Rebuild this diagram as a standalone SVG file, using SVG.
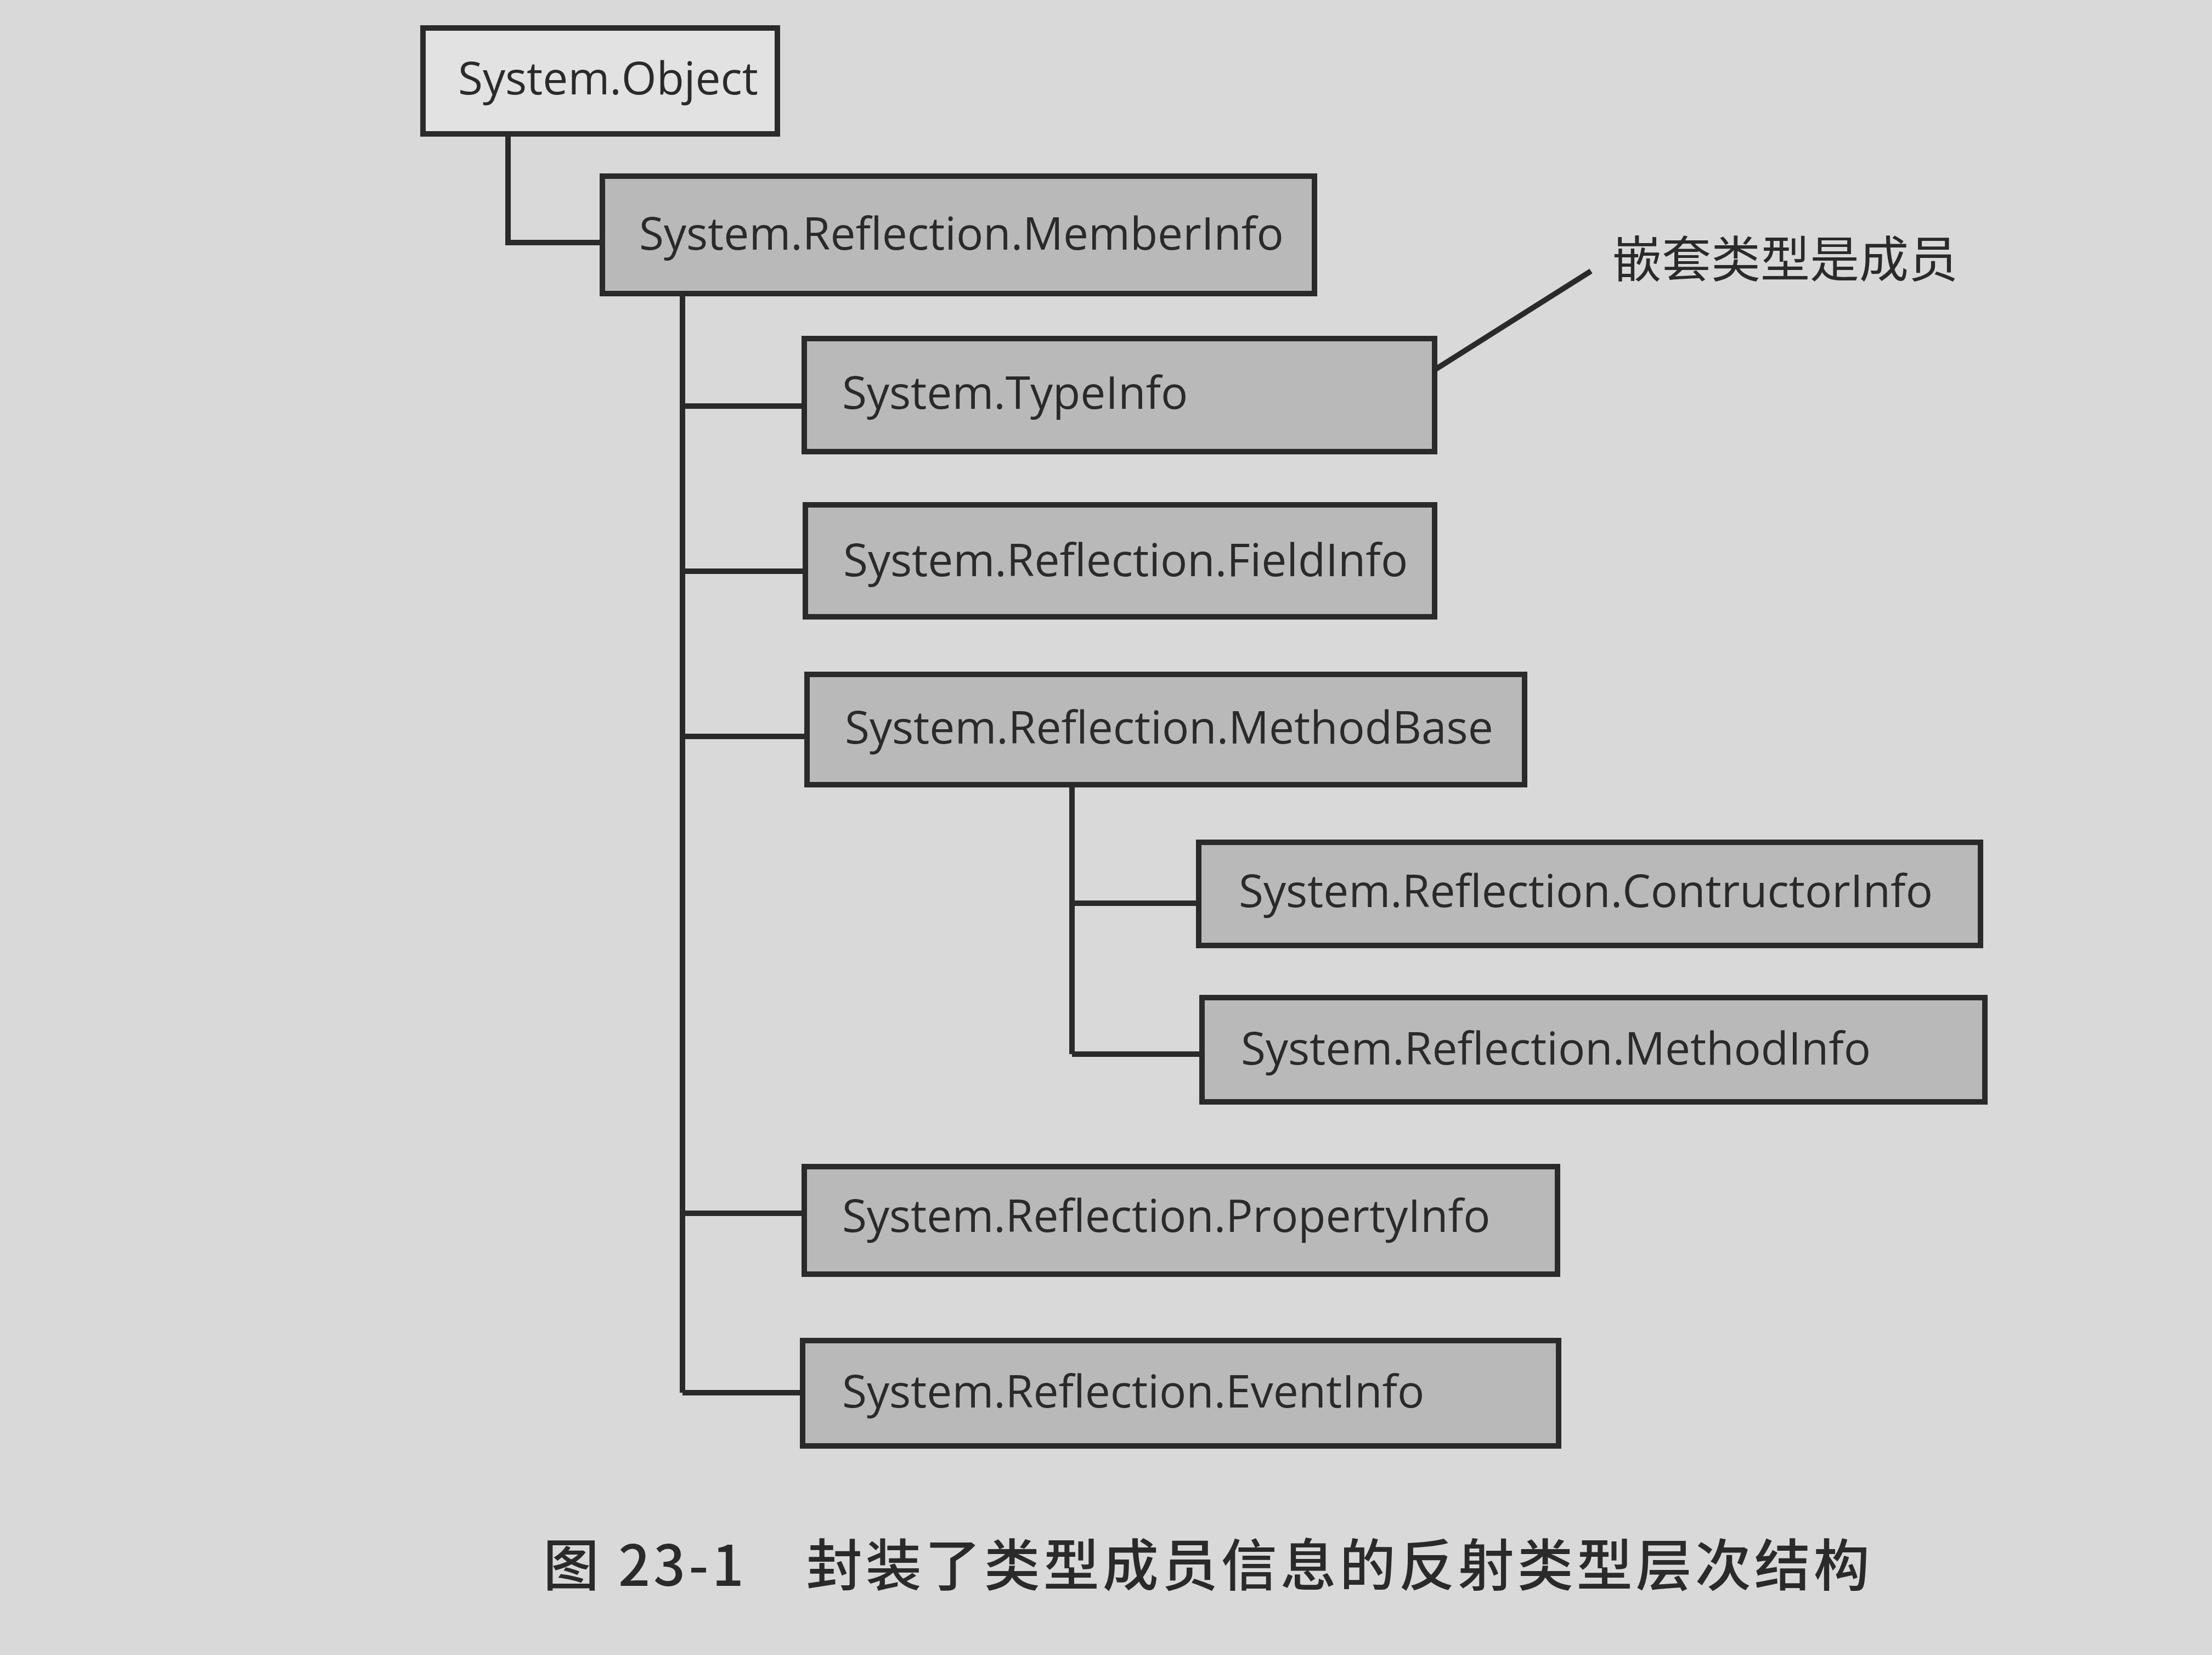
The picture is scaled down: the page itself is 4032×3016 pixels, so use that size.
<svg xmlns="http://www.w3.org/2000/svg" width="4032" height="3016" viewBox="0 0 4032 3016">
<style>
.b{fill:#b9b9b9;stroke:#2a2a2a;stroke-width:10}
.w{fill:#e2e2e2;stroke:#2a2a2a;stroke-width:10}
.t{font-family:"Open Sans","Liberation Sans",sans-serif;font-size:82px;fill:#2a2a2a}
.c{stroke:#2a2a2a;stroke-width:10;fill:none}
</style>
<rect width="4032" height="3016" fill="#d9d9d9"/>
<g id="connectors">
<polyline class="c" points="926,244 926,442 1098,442"/>
<line class="c" x1="1244" y1="535" x2="1244" y2="2538"/>
<line class="c" x1="1244" y1="740" x2="1466" y2="740"/>
<line class="c" x1="1244" y1="1041" x2="1468" y2="1041"/>
<line class="c" x1="1244" y1="1342" x2="1471" y2="1342"/>
<line class="c" x1="1244" y1="2211" x2="1466" y2="2211"/>
<line class="c" x1="1244" y1="2538" x2="1463" y2="2538"/>
<line class="c" x1="1954" y1="1430" x2="1954" y2="1921"/>
<line class="c" x1="1954" y1="1646" x2="2185" y2="1646"/>
<line class="c" x1="1954" y1="1921" x2="2191" y2="1921"/>
<line class="c" x1="2615" y1="674" x2="2900" y2="494" stroke-width="6"/>
</g>
<g id="object"><rect class="w" x="771" y="51" width="646" height="193"/><text class="t" x="835" y="172">System.Object</text></g>
<g id="memberinfo"><rect class="b" x="1098" y="321" width="1298" height="214"/><text class="t" x="1165" y="455">System.Reflection.MemberInfo</text></g>
<g id="typeinfo"><rect class="b" x="1466" y="617" width="1149" height="206"/><text class="t" x="1535" y="745">System.TypeInfo</text></g>
<g id="fieldinfo"><rect class="b" x="1468" y="920" width="1147" height="204"/><text class="t" x="1537" y="1050">System.Reflection.FieldInfo</text></g>
<g id="methodbase"><rect class="b" x="1471" y="1229" width="1308" height="201"/><text class="t" x="1540" y="1355">System.Reflection.MethodBase</text></g>
<g id="ctorinfo"><rect class="b" x="2185" y="1535" width="1425" height="188"/><text class="t" x="2258" y="1653">System.Reflection.ContructorInfo</text></g>
<g id="methodinfo"><rect class="b" x="2191" y="1818" width="1427" height="190"/><text class="t" x="2262" y="1940">System.Reflection.MethodInfo</text></g>
<g id="propertyinfo"><rect class="b" x="1466" y="2126" width="1373" height="196"/><text class="t" x="1535" y="2245">System.Reflection.PropertyInfo</text></g>
<g id="eventinfo"><rect class="b" x="1463" y="2443" width="1378" height="192"/><text class="t" x="1535" y="2565">System.Reflection.EventInfo</text></g>
<text x="2939" y="505" font-family="'Noto Sans CJK SC',sans-serif" font-size="90" fill="#2a2a2a">嵌套类型是成员</text>
<text x="990" y="2890" font-family="'Noto Sans CJK SC',sans-serif" font-size="102" font-weight="500" letter-spacing="6" fill="#2a2a2a" xml:space="preserve">图 23-1　封装了类型成员信息的反射类型层次结构</text>
</svg>
